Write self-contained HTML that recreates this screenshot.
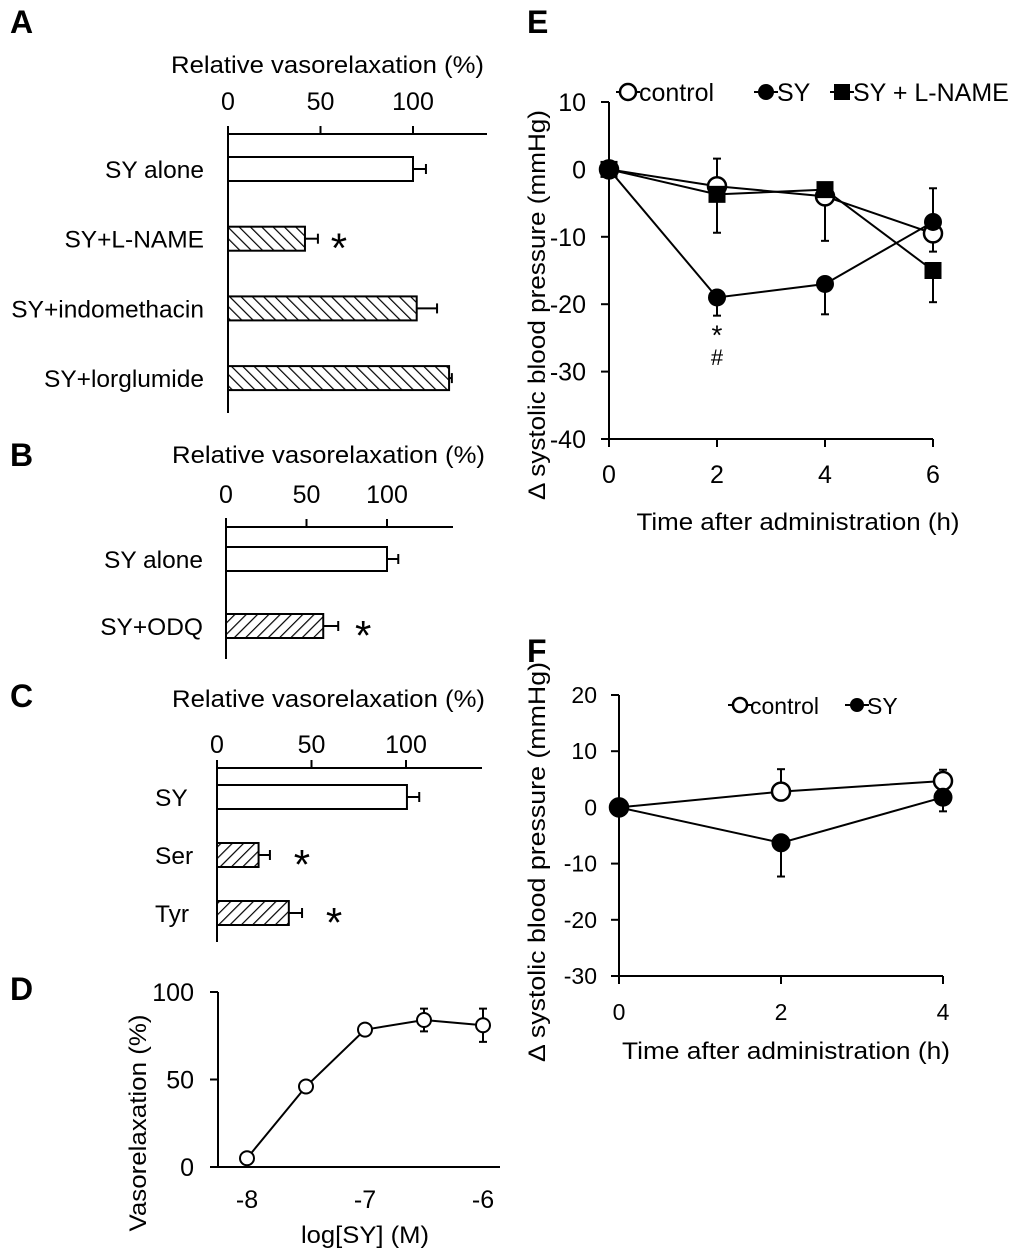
<!DOCTYPE html>
<html><head><meta charset="utf-8">
<style>
html,body{margin:0;padding:0;background:#fff;}
svg{display:block;font-family:"Liberation Sans","DejaVu Sans",sans-serif;}
</style></head>
<body>
<svg id="fig" width="1020" height="1255" viewBox="0 0 1020 1255" xmlns="http://www.w3.org/2000/svg">
<defs>
<pattern id="hatchBack" width="8" height="8" patternUnits="userSpaceOnUse" patternTransform="rotate(-45)">
<rect width="8" height="8" fill="#fff"/><line x1="0" y1="0" x2="0" y2="8" stroke="#000" stroke-width="2.4"/></pattern>
<pattern id="hatchFwd" width="8" height="8" patternUnits="userSpaceOnUse" patternTransform="rotate(45)">
<rect width="8" height="8" fill="#fff"/><line x1="0" y1="0" x2="0" y2="8" stroke="#000" stroke-width="2.4"/></pattern>
</defs>
<g id="root"></g>
</svg>
<script>
// ---- Panel A data ----
const aCats = ["SY alone","SY+L-NAME","SY+indomethacin","SY+lorglumide"];
const aVals = [100, 41.6, 102, 119.5];
const aErrs = [7, 7, 11, 1.5];
const aSig = [false, true, false, false];
const aTicks = [0, 50, 100];
// ---- Panel B data ----
const bCats = ["SY alone","SY+ODQ"];
const bVals = [100, 60.4];
const bErrs = [7, 9.3];
const bSig = [false, true];
const bTicks = [0, 50, 100];
// ---- Panel C data ----
const cCats = ["SY","Ser","Tyr"];
const cVals = [100.5, 22, 38];
const cErrs = [6.5, 6, 7];
const cSig = [false, true, true];
const cTicks = [0, 50, 100];
// ---- Panel D data ----
const dX = [-8, -7.5, -7, -6.5, -6];
const dY = [5, 46, 78.5, 84, 81];
const dErr = [1, 1.5, 3, 6.5, 9.5];
const dXTicks = [-8, -7, -6];
const dYTicks = [0, 50, 100];
// ---- Panel E data ----
const eX = [0, 2, 4, 6];
const eControl = [0, -2.5, -4, -9.5];
const eControlErr = [0, 4.1, 6.6, 2.7];
const eSY = [0, -19, -17, -7.8];
const eSYErr = [0, 2.7, 4.5, 5];
const eLN = [0, -3.7, -3, -15];
const eLNErr = [0, 5.7, 0, 4.7];
const eYTicks = [10, 0, -10, -20, -30, -40];
const eXTicks = [0, 2, 4, 6];
// ---- Panel F data ----
const fX = [0, 2, 4];
const fControl = [0, 2.8, 4.7];
const fControlErr = [0, 4, 2];
const fSY = [0, -6.3, 1.8];
const fSYErr = [0, 6, 2.5];
const fYTicks = [20, 10, 0, -10, -20, -30];
const fXTicks = [0, 2, 4];

const NS = "http://www.w3.org/2000/svg";
const root = document.getElementById("root");
function mk(tag, attrs, parent, text){
  const e = document.createElementNS(NS, tag);
  for (const k in attrs) e.setAttribute(k, attrs[k]);
  if (text !== undefined) e.textContent = text;
  (parent || root).appendChild(e);
  return e;
}
function line(x1,y1,x2,y2,p,w){ return mk("line",{x1,y1,x2,y2,stroke:"#000","stroke-width":w||2},p); }
function grp(name){ const g = mk("g",{});   return g; }

// panel letters
[["A",10,33],["B",10,466],["C",10,707],["D",10,1000],["E",527,33],["F",527,662]].forEach(l=>{
  const t = mk("text",{x:l[1],y:l[2],"font-size":"32","font-weight":"bold"},root,l[0]);
  
  
});

function barPanel(name, cats, vals, errs, sig, ticks, cfg){
  const g = grp(name);
  const sx = v => cfg.x0 + v*cfg.k;
  const ttl = mk("text",{x:cfg.titleX,y:cfg.titleY,"font-size":"24",textLength:313,lengthAdjust:"spacingAndGlyphs"},g,"Relative vasorelaxation (%)");
  
  
  line(cfg.x0, cfg.axisY, cfg.axisEnd, cfg.axisY, g);
  line(cfg.x0, cfg.vTop, cfg.x0, cfg.vBot, g);
  ticks.forEach(t=>{
    line(sx(t), cfg.axisY, sx(t), cfg.axisY-8, g);
    const tl = mk("text",{x:sx(t),y:cfg.tickY,"font-size":"25","text-anchor":"middle"},g,String(t));
    
    
  });
  cats.forEach((c,i)=>{
    const yc = cfg.y0 + i*cfg.dy;
    const lab = mk("text",{x:cfg.labelX,y:yc+9,"font-size":"24.5","text-anchor":cfg.labelAnchor},g,c);
    
    
    const fill = i===0 ? "#fff" : "url(#"+cfg.hatch+")";
    const r = mk("rect",{x:cfg.x0,y:yc-12,width:sx(vals[i])-cfg.x0,height:24,fill:fill,stroke:"#000","stroke-width":2},g);
    
    
    const ex = sx(vals[i]+errs[i]);
    line(sx(vals[i]), yc, ex, yc, g, 2);
    line(ex, yc-5, ex, yc+5, g, 2);
    if (sig[i]){
      const s = mk("text",{x:ex+cfg.starOff,y:yc+24,"font-size":"42","text-anchor":"middle"},g,"*");
      
      
    }
  });
}
barPanel("panel-a-chart", aCats, aVals, aErrs, aSig, aTicks,
  {x0:228,k:1.85,axisY:134,axisEnd:487,vTop:126,vBot:413,titleX:171,titleY:73,tickY:110,y0:169,dy:69.7,labelX:204,labelAnchor:"end",hatch:"hatchBack",starOff:21});
barPanel("panel-b-chart", bCats, bVals, bErrs, bSig, bTicks,
  {x0:226,k:1.61,axisY:527,axisEnd:453,vTop:518,vBot:659,titleX:172,titleY:463,tickY:503,y0:559,dy:67,labelX:203,labelAnchor:"end",hatch:"hatchFwd",starOff:25});
barPanel("panel-c-chart", cCats, cVals, cErrs, cSig, cTicks,
  {x0:217,k:1.89,axisY:768,axisEnd:482,vTop:760,vBot:942,titleX:172,titleY:707,tickY:753,y0:797,dy:58,labelX:155,labelAnchor:"start",hatch:"hatchFwd",starOff:32});

// Panel D
(function(){
  const g = grp("panel-d-chart");
  const sx = v => 247 + (v+8)*118;
  const sy = v => 1167 - v*1.75;
  line(218, sy(100), 218, 1167, g);
  line(210, 1167, 500, 1167, g);
  dYTicks.forEach(t=>{
    line(210, sy(t), 218, sy(t), g);
    const tl = mk("text",{x:194,y:sy(t)+9,"font-size":"25","text-anchor":"end"},g,String(t));
    
    
  });
  dXTicks.forEach(t=>{
    const tl = mk("text",{x:sx(t),y:1208,"font-size":"25","text-anchor":"middle"},g,String(t));
    
    
  });
  const xt = mk("text",{x:365,y:1243,"font-size":"24","text-anchor":"middle",textLength:128,lengthAdjust:"spacingAndGlyphs"},g,"log[SY] (M)");
  
  
  const yt = mk("text",{x:0,y:0,"font-size":"24","text-anchor":"middle",transform:"translate(146,1123) rotate(-90)",textLength:217,lengthAdjust:"spacingAndGlyphs"},g,"Vasorelaxation (%)");
  
  
  mk("polyline",{points:dX.map((x,i)=>sx(x)+","+sy(dY[i])).join(" "),fill:"none",stroke:"#000","stroke-width":2},g);
  dX.forEach((x,i)=>{
    line(sx(x), sy(dY[i]+dErr[i]), sx(x), sy(dY[i]-dErr[i]), g);
    line(sx(x)-4, sy(dY[i]+dErr[i]), sx(x)+4, sy(dY[i]+dErr[i]), g);
    line(sx(x)-4, sy(dY[i]-dErr[i]), sx(x)+4, sy(dY[i]-dErr[i]), g);
    const c = mk("circle",{cx:sx(x),cy:sy(dY[i]),r:7,fill:"#fff",stroke:"#000","stroke-width":2},g);
    
    
  });
})();

function marker(g, type, x, y, size){
  let e;
  if (type==="open") e = mk("circle",{cx:x,cy:y,r:size,fill:"#fff",stroke:"#000","stroke-width":2.5},g);
  else if (type==="filled") e = mk("circle",{cx:x,cy:y,r:size,fill:"#000"},g);
  else e = mk("rect",{x:x-size,y:y-size,width:2*size,height:2*size,fill:"#000"},g);
  
  
}
function series(g, sx, sy, xs, ys, errs, type, size, errUp){
  mk("polyline",{points:xs.map((x,i)=>sx(x)+","+sy(ys[i])).join(" "),fill:"none",stroke:"#000","stroke-width":2},g);
  xs.forEach((x,i)=>{
    if (errs[i]>0){
      const y2 = sy(ys[i] + (errUp[i]? errs[i] : -errs[i]));
      line(sx(x), sy(ys[i]), sx(x), y2, g);
      line(sx(x)-4, y2, sx(x)+4, y2, g);
    }
  });
  xs.forEach((x,i)=> marker(g, type, sx(x), sy(ys[i]), size));
}
function legendEntry(g, type, x, y, label, size, fs){
  line(x-12, y, x+12, y, g, 2);
  marker(g, type, x, y, size);
  const t = mk("text",{x:x+size+3,y:y+9,"font-size":fs},g,label);
  
  
}

// Panel E
(function(){
  const g = grp("panel-e-chart");
  const sx = v => 609 + v*54;
  const sy = v => 169.4 - v*6.74;
  line(609, sy(10), 609, 439, g);
  line(609, 439, 933, 439, g);
  eYTicks.forEach(t=>{
    line(601, sy(t), 609, sy(t), g);
    const tl = mk("text",{x:586,y:sy(t)+9,"font-size":"25","text-anchor":"end"},g,String(t));
    
    
  });
  eXTicks.forEach(t=>{
    line(sx(t), 439, sx(t), 447, g);
    const tl = mk("text",{x:sx(t),y:483,"font-size":"25","text-anchor":"middle"},g,String(t));
    
    
  });
  const xt = mk("text",{x:798,y:530,"font-size":"24","text-anchor":"middle",textLength:323,lengthAdjust:"spacingAndGlyphs"},g,"Time after administration (h)");
  
  
  const yt = mk("text",{x:0,y:0,"font-size":"24","text-anchor":"middle",transform:"translate(545,305) rotate(-90)",textLength:390,lengthAdjust:"spacingAndGlyphs"},g,"Δ systolic blood pressure (mmHg)");
  
  
  series(g, sx, sy, eX, eControl, eControlErr, "open", 9, [0,1,0,0]);
  series(g, sx, sy, eX, eLN, eLNErr, "square", 8.5, [0,0,0,0]);
  series(g, sx, sy, eX, eSY, eSYErr, "filled", 9, [0,0,0,1]);
  const s1 = mk("text",{x:sx(2),y:sy(-26),"font-size":"28","text-anchor":"middle"},g,"*");
  
  
  const s2 = mk("text",{x:sx(2),y:sy(-29),"font-size":"22","text-anchor":"middle"},g,"#");
  
  
  legendEntry(g, "open", 628, 92, "control", 8, "25");
  legendEntry(g, "filled", 766, 92, "SY", 8, "25");
  legendEntry(g, "square", 842, 92, "SY + L-NAME", 8, "25");
})();

// Panel F
(function(){
  const g = grp("panel-f-chart");
  const sx = v => 619 + v*81;
  const sy = v => 807.4 - v*5.62;
  line(619, sy(20), 619, sy(-30), g);
  line(619, sy(-30), 943, sy(-30), g);
  fYTicks.forEach(t=>{
    line(611, sy(t), 619, sy(t), g);
    const tl = mk("text",{x:597,y:sy(t)+8,"font-size":"23","text-anchor":"end"},g,String(t));
    
    
  });
  fXTicks.forEach(t=>{
    line(sx(t), sy(-30), sx(t), sy(-30)+8, g);
    const tl = mk("text",{x:sx(t),y:1020,"font-size":"23","text-anchor":"middle"},g,String(t));
    
    
  });
  const xt = mk("text",{x:786,y:1059,"font-size":"24","text-anchor":"middle",textLength:328,lengthAdjust:"spacingAndGlyphs"},g,"Time after administration (h)");
  
  
  const yt = mk("text",{x:0,y:0,"font-size":"24","text-anchor":"middle",transform:"translate(545,862) rotate(-90)",textLength:400,lengthAdjust:"spacingAndGlyphs"},g,"Δ systolic blood pressure (mmHg)");
  
  
  series(g, sx, sy, fX, fControl, fControlErr, "open", 9, [0,1,1]);
  series(g, sx, sy, fX, fSY, fSYErr, "filled", 9.5, [0,0,0]);
  legendEntry(g, "open", 740, 705, "control", 7, "23");
  legendEntry(g, "filled", 857, 705, "SY", 7, "23");
})();
</script>
</body></html>
